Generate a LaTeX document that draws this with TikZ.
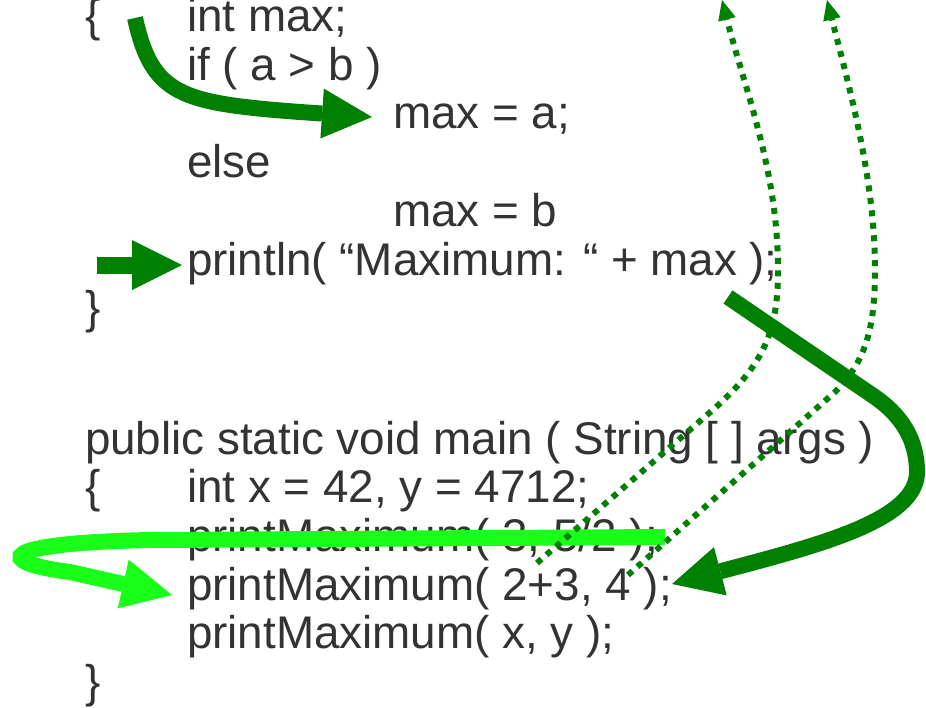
\documentclass[tikz,border=0pt]{standalone}
\usepackage{fontspec}
\setmainfont{Liberation Sans}
\usetikzlibrary{arrows.meta}
\definecolor{codegray}{RGB}{51,51,51}
\definecolor{flowdark}{RGB}{0,128,0}
\definecolor{flowlight}{RGB}{25,255,25}

\begin{document}
\begin{tikzpicture}[x=1pt,y=-1pt,
  code/.style={anchor=base west, inner sep=0pt, outer sep=0pt,
    text=codegray, font=\fontsize{45.8}{48.7}\selectfont},
  bighead/.style={-{Triangle[length=50pt,width=50pt,line width=0pt]}},
  flowthick/.style={draw=flowdark, line width=16pt, line cap=butt, bighead},
  flowjump/.style={draw=flowlight, line width=16pt, line cap=butt, bighead},
  flowreturn/.style={draw=flowdark, line width=6pt, line cap=butt,
    dash pattern=on 6pt off 6.5pt,
    -{Triangle[length=20pt,width=18pt,line width=0pt]}}
]
\useasboundingbox (0,0) rectangle (926,707);

% body of printMaximum
\node[code] (brA) at (85,31.5)   {\{};
\node[code] (l1)  at (187,31.5)  {int max;};
\node[code] (l2)  at (187,80.2)  {if ( a > b )};
\node[code] (l3)  at (393,128.9) {max = a;};
\node[code] (l4)  at (187,177.6) {else};
\node[code] (l5)  at (393,226.3) {max = b};
\node[code] (l6)  at (187,275)   {println( “Maximum: “ + max );};
\node[code] (brB) at (85,323.7)  {\}};

% main method
\node[code] (m0)  at (85,454)    {public static void main ( String [ ] args )};
\node[code] (brC) at (85,502.7)  {\{};
\node[code] (m1)  at (187,502.7) {int x = 42, y = 4712;};
\node[code] (m2)  at (187,551.4) {printMaximum( 3, 5/2 );};
\node[code] (m3)  at (187,600.1) {printMaximum( 2+3, 4 );};
\node[code] (m4)  at (187,648.8) {printMaximum( x, y );};
\node[code] (brD) at (85,697.5)  {\}};

% end points of the flow arrows
\coordinate (jumpS) at (665,537);
\coordinate (jumpE) at (172,595);
\coordinate (retAS) at (537,563);
\coordinate (retAE) at (722,0);
\coordinate (retBS) at (628,575);
\coordinate (retBE) at (827,0);
\coordinate (thenS) at (135,18);
\coordinate (thenE) at (372,117);
\coordinate (prS)   at (97,265);
\coordinate (prE)   at (182,265);
\coordinate (backS) at (728,297);
\coordinate (backE) at (672,584);

% call of the second statement
\draw[flowjump] (jumpS) -- (150,540) .. controls (-3,543) and (-8,562) .. (70,572) -- (jumpE);

% returns to the caller
\draw[flowreturn] (retAS) -- (715,408) .. controls (765,363) and (778,330) .. (778,270)
  .. controls (778,170) and (745,90) .. (retAE);
\draw[flowreturn] (retBS) -- (835,392) .. controls (865,362) and (875,330) .. (875,270)
  .. controls (875,180) and (850,90) .. (retBE);

% control flow inside the method
\draw[flowthick] (thenS) .. controls (152,95) and (180,103) .. (300,112) -- (thenE);
\draw[flowthick, line width=17pt] (prS) -- (prE);
\draw[flowthick] (backS) -- (872,395) .. controls (902,415) and (917,440) .. (917,472)
  .. controls (917,520) and (820,545) .. (backE);
\end{tikzpicture}
\end{document}
